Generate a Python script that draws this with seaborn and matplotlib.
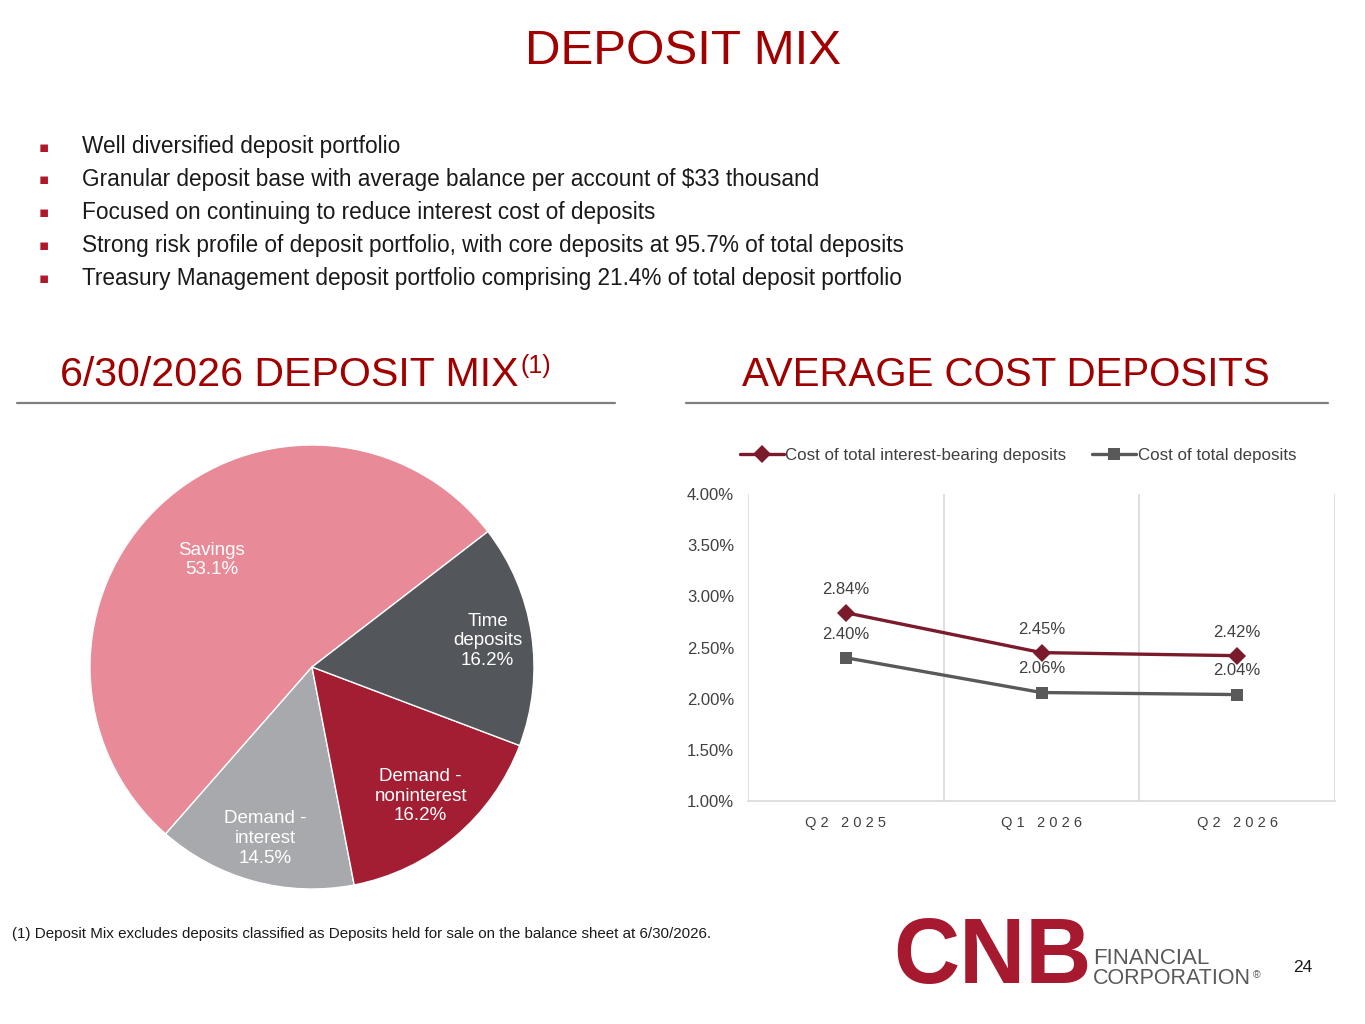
import numpy as np
import pandas as pd
import matplotlib
matplotlib.use("Agg")
import matplotlib.pyplot as plt
import seaborn as sns

# pie data (counter-clockwise from the Savings/Time boundary)
mix_labels = ["Savings", "Demand -\ninterest", "Demand -\nnoninterest", "Time\ndeposits"]
mix_values = [53.1, 14.5, 16.2, 16.2]

# line data
quarters = ["Q2 2025", "Q1 2026", "Q2 2026"]
cost_interest_bearing = [2.84, 2.45, 2.42]
cost_total = [2.40, 2.06, 2.04]

bullets = [
    "Well diversified deposit portfolio",
    "Granular deposit base with average balance per account of $33 thousand",
    "Focused on continuing to reduce interest cost of deposits",
    "Strong risk profile of deposit portfolio, with core deposits at 95.7% of total deposits",
    "Treasury Management deposit portfolio comprising 21.4% of total deposit portfolio",
]

sns.set_theme(style="white")
plt.rcParams["font.family"] = ["Liberation Sans", "DejaVu Sans"]

W, H = 1365, 1024
fig = plt.figure(figsize=(W / 100, H / 100), dpi=100)


def fx(px):
    return px / W


def fy(py):
    return 1 - py / H


# title and bullets
fig.text(fx(683), fy(52), "DEPOSIT MIX", ha="center", va="center",
         fontsize=35.5, color="#A00000")
for i, b in enumerate(bullets):
    y = 147 + i * 32.8
    fig.text(fx(44), fy(y), "\u25aa", ha="center", va="center", fontsize=11,
             color="#B0172A", family="DejaVu Sans")
    fig.text(fx(82), fy(y), b, ha="left", va="center", fontsize=16.3, color="#1a1a1a")

# section headings
fig.text(fx(60), fy(375), "6/30/2026 DEPOSIT MIX", ha="left", va="center",
         fontsize=29.6, color="#A00000")
fig.text(fx(520), fy(366), "(1)", ha="left", va="center", fontsize=18, color="#A00000")
fig.text(fx(1006), fy(375), "AVERAGE COST DEPOSITS", ha="center", va="center",
         fontsize=29, color="#A00000")
fig.add_artist(plt.Line2D([fx(17), fx(615)], [fy(403), fy(403)], color="#7f7f7f", lw=1.6))
fig.add_artist(plt.Line2D([fx(686), fx(1328)], [fy(403), fy(403)], color="#7f7f7f", lw=1.6))

# pie
r = 222
ax_pie = fig.add_axes([fx(312 - r), fy(667 + r), 2 * r / W, 2 * r / H])
pie_colors = ["#E88A97", "#A7A9AC", "#A31D33", "#53565A"]
wedges, _ = ax_pie.pie(mix_values, colors=pie_colors, startangle=37.6, counterclock=True,
                       wedgeprops=dict(edgecolor="white", linewidth=1), radius=1)
label_r = [0.66, 0.8, 0.76, 0.8]
for w, lab, v, lr in zip(wedges, mix_labels, mix_values, label_r):
    ang = np.deg2rad((w.theta1 + w.theta2) / 2)
    ax_pie.text(lr * np.cos(ang), lr * np.sin(ang), f"{lab}\n{v:.1f}%", ha="center",
                va="center", fontsize=13.5, color="white", linespacing=1.2)
ax_pie.set_xlim(-1, 1)
ax_pie.set_ylim(-1, 1)
ax_pie.set_aspect("equal")
ax_pie.axis("off")

# line chart
series_names = ["Cost of total interest-bearing deposits", "Cost of total deposits"]
df = pd.DataFrame({
    "quarter": quarters * 2,
    "x": list(range(len(quarters))) * 2,
    "value": cost_interest_bearing + cost_total,
    "series": [series_names[0]] * 3 + [series_names[1]] * 3,
})
ax = fig.add_axes([fx(748), fy(801), 587 / W, 307 / H])
palette = {series_names[0]: "#7B1A2A", series_names[1]: "#595959"}
markers = {series_names[0]: "D", series_names[1]: "s"}
sns.lineplot(data=df, x="x", y="value", hue="series", style="series", palette=palette,
             markers=markers, dashes=False, linewidth=2.4, markersize=9, ax=ax,
             markeredgewidth=0)
for _, row in df.iterrows():
    ax.annotate(f"{row['value']:.2f}%", (row["x"], row["value"]), xytext=(0, 17),
                textcoords="offset points", ha="center", va="center",
                fontsize=12, color="#404040")
ax.set_xlim(-0.5, 2.5)
ax.set_ylim(1.0, 4.0)
ax.set_yticks(np.arange(1.0, 4.01, 0.5))
ax.set_yticklabels([f"{t:.2f}%" for t in np.arange(1.0, 4.01, 0.5)], fontsize=12,
                   color="#404040")
ax.set_xticks(range(len(quarters)))
ax.set_xticklabels([" ".join(q) for q in quarters], fontsize=10.5, color="#404040")
ax.tick_params(axis="y", length=0, pad=10)
ax.tick_params(axis="x", length=0, pad=11)
for xv in [-0.5, 0.5, 1.5, 2.5]:
    ax.axvline(xv, color="#d9d9d9", lw=1.2, zorder=0)
for s in ["top", "left", "right"]:
    ax.spines[s].set_visible(False)
ax.spines["bottom"].set_color("#d9d9d9")
ax.spines["bottom"].set_linewidth(1.2)
ax.set_xlabel("")
ax.set_ylabel("")
sns.move_legend(ax, "lower center", bbox_to_anchor=(0.46, 1.05), ncol=2, frameon=False,
                title=None, fontsize=12.2, handlelength=2.6, handletextpad=0.1,
                columnspacing=1.5)
for t in ax.get_legend().get_texts():
    t.set_color("#404040")

# footnote, logo, page number
fig.text(fx(12), fy(934), "(1) Deposit Mix excludes deposits classified as Deposits held for sale "
         "on the balance sheet at 6/30/2026.", ha="left", va="center", fontsize=10.9,
         color="#1a1a1a")
fig.text(fx(893), fy(959), "CNB", ha="left", va="center", fontsize=66, weight="bold",
         color="#A6192E")
fig.text(fx(1093), fy(958), "FINANCIAL", ha="left", va="center", fontsize=16,
         color="#58595B")
fig.text(fx(1093), fy(979), "CORPORATION", ha="left", va="center", fontsize=15.5,
         color="#58595B")
fig.text(fx(1253), fy(975), "\u00ae", ha="left", va="center", fontsize=7.5,
         color="#58595B")
fig.text(fx(1303), fy(968), "24", ha="center", va="center", fontsize=12.5, color="#1a1a1a")

fig.savefig("out.png", dpi=100, facecolor="white")
